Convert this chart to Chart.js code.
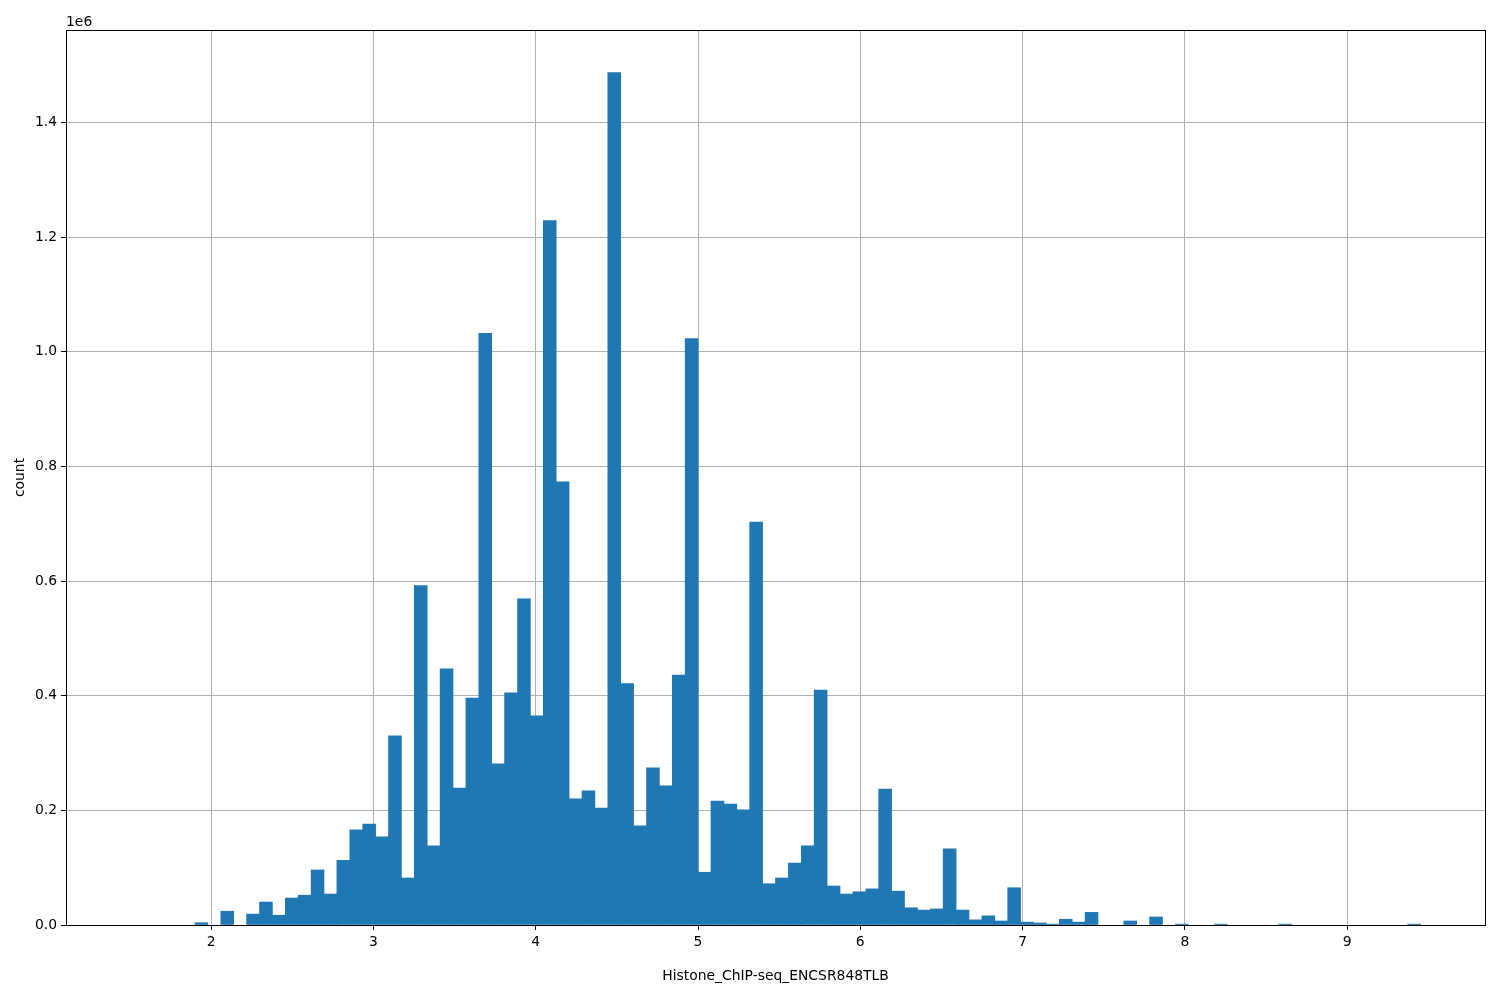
<!DOCTYPE html>
<html>
<head>
<meta charset="utf-8">
<script src="https://cdn.jsdelivr.net/npm/chart.js@4/dist/chart.umd.min.js"></script>
<style>
  body { margin: 0; background: #fff; }
  #wrap { width: 1500px; height: 1000px; }
</style>
</head>
<body>
<div id="wrap"><canvas id="hist" width="1500" height="1000"></canvas></div>
<script>
// histogram bins (100 equal bins between binMin and binMax)
const binMin = 1.503;
const binMax = 9.452;
const binCount = 100;

// counts per bin
const counts = [
  0, 0, 0, 0, 0, 4000, 0, 24000, 0, 19000,
  40000, 17000, 47000, 52000, 96000, 54000, 113000, 166000, 176000, 154000,
  330000, 82000, 592000, 138000, 447000, 239000, 396000, 1032000, 281000, 405000,
  569000, 365000, 1229000, 773000, 220000, 234000, 204000, 1487000, 421000, 173000,
  274000, 243000, 436000, 1023000, 92000, 216000, 211000, 201000, 703000, 72000,
  82000, 108000, 138000, 410000, 68000, 54000, 58000, 63000, 237000, 59000,
  30000, 26000, 28000, 133000, 26000, 9000, 16000, 7000, 65000, 5000,
  3500, 1500, 10000, 5000, 22000, 0, 0, 7000, 0, 14000,
  0, 1500, 0, 0, 1500, 0, 0, 0, 0, 1500,
  0, 0, 0, 0, 0, 0, 0, 0, 0, 1500
];

const xTicks = [2, 3, 4, 5, 6, 7, 8, 9];
const yTicks = [0, 200000, 400000, 600000, 800000, 1000000, 1200000, 1400000];

const xLabel = 'Histone_ChIP-seq_ENCSR848TLB';
const yLabel = 'count';

const FONT = 'DejaVu Sans';
const FS = 13.9;

document.addEventListener('DOMContentLoaded', () => {
  const ctx = document.getElementById('hist').getContext('2d');
  const binWidth = (binMax - binMin) / binCount;
  // empty bins get null so nothing is drawn for them
  const points = counts.map((c, i) => ({ x: binMin + (i + 0.5) * binWidth, y: c === 0 ? null : c }));

  // matplotlib style 5% margins
  const span = binMax - binMin;
  const xMin = binMin - 0.05 * span;
  const xMax = binMax + 0.05 * span;
  const yMax = Math.max(...counts) * 1.05;

  // top/right spines and the offset text
  const framePlugin = {
    id: 'frame',
    afterDraw(chart) {
      const a = chart.chartArea;
      const c = chart.ctx;
      c.save();
      c.strokeStyle = '#000';
      c.lineWidth = 1;
      c.strokeRect(Math.round(a.left) + 0.5, Math.round(a.top) + 0.5,
        Math.round(a.right - a.left), Math.round(a.bottom - a.top));
      c.fillStyle = '#000';
      c.font = FS + 'px "' + FONT + '"';
      c.textBaseline = 'alphabetic';
      c.textAlign = 'left';
      c.fillText('1e6', a.left, 26);
      c.restore();
    }
  };

  new Chart(ctx, {
    type: 'bar',
    data: {
      datasets: [{
        data: points,
        backgroundColor: '#1f77b4',
        borderWidth: 0,
        barPercentage: 1,
        categoryPercentage: 1
      }]
    },
    options: {
      responsive: false,
      animation: false,
      layout: { padding: { left: 0, right: 15, top: 30, bottom: 0 } },
      plugins: { legend: { display: false }, tooltip: { enabled: false } },
      scales: {
        x: {
          type: 'linear',
          min: xMin,
          max: xMax,
          offset: false,
          z: 1,
          afterFit: s => { s.height = 75; },
          afterBuildTicks: s => { s.ticks = xTicks.map(v => ({ value: v })); },
          grid: { offset: false, color: '#b0b0b0', lineWidth: 1, tickColor: '#000', tickLength: 5 },
          border: { color: '#000', width: 1 },
          ticks: {
            color: '#000',
            padding: 4,
            maxRotation: 0,
            font: { family: FONT, size: FS },
            callback: v => String(v)
          },
          title: {
            display: true,
            text: xLabel,
            color: '#000',
            font: { family: FONT, size: FS },
            padding: { top: 0, bottom: 15.5 }
          }
        },
        y: {
          min: 0,
          max: yMax,
          z: 1,
          afterFit: s => { s.width = 66; },
          afterBuildTicks: s => { s.ticks = yTicks.map(v => ({ value: v })); },
          grid: { color: '#b0b0b0', lineWidth: 1, tickColor: '#000', tickLength: 5 },
          border: { color: '#000', width: 1 },
          ticks: {
            color: '#000',
            padding: 4,
            font: { family: FONT, size: FS },
            callback: v => (v / 1e6).toFixed(1)
          },
          title: {
            display: true,
            text: yLabel,
            color: '#000',
            font: { family: FONT, size: FS },
            padding: { top: 12.5, bottom: 0 }
          }
        }
      }
    },
    plugins: [framePlugin]
  });
});
</script>
</body>
</html>
